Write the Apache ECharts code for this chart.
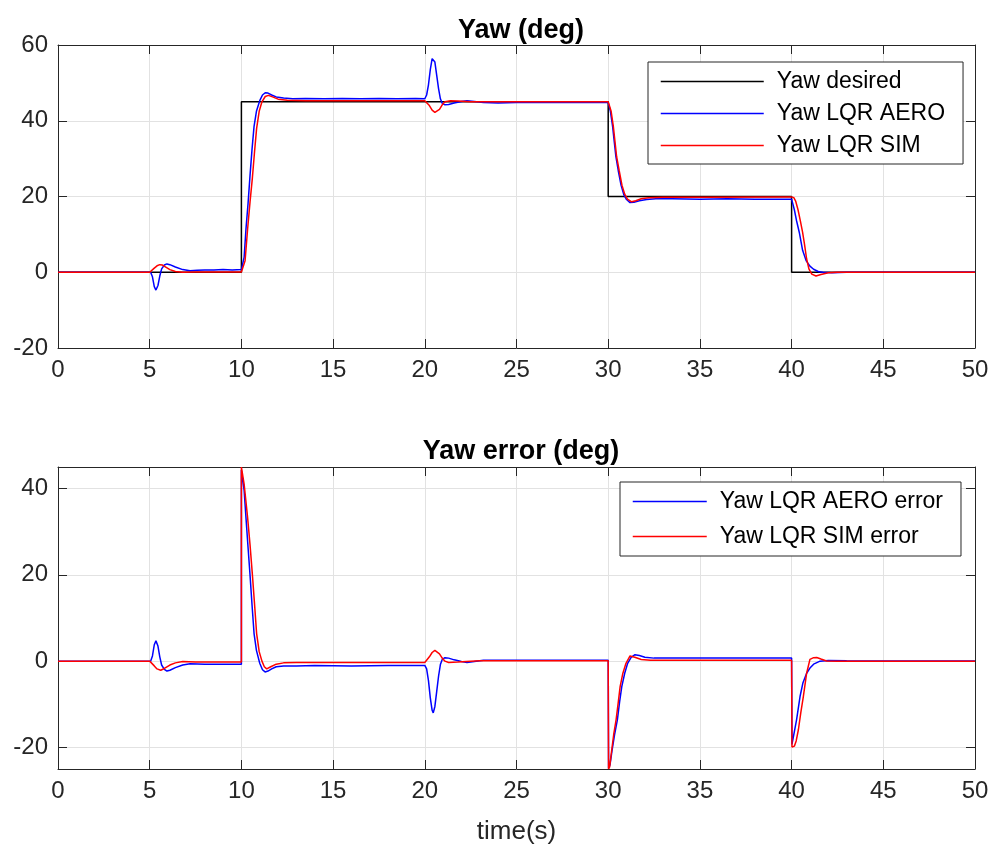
<!DOCTYPE html>
<html>
<head>
<meta charset="utf-8">
<title>Yaw LQR</title>
<script src="https://cdn.jsdelivr.net/npm/echarts@6/dist/echarts.min.js"></script>
<style>
  html, body { margin: 0; padding: 0; background: #fff; }
  #chart { width: 993px; height: 850px; }
</style>
</head>
<body>
<div id="chart"></div>
<script>
// Time axis ticks (seconds)
var timeTicks = [0, 5, 10, 15, 20, 25, 30, 35, 40, 45, 50];
var yawTicks = [-20, 0, 20, 40, 60];
var errorTicks = [-20, 0, 20, 40];

// Yaw reference [t, deg]
var yawDesired = [[0, 0], [10, 0], [10, 45], [30, 45], [30, 20], [40, 20], [40, 0], [50, 0]];

// Yaw measured on the aero rig [t, deg]
var yawAero = [
  [0, 0], [5.05, 0], [5.15, -1.2], [5.25, -3.8], [5.34, -4.7], [5.45, -3.5], [5.55, -1], [5.65, 0.9],
  [5.8, 1.9], [5.94, 2.2], [6.1, 2.0], [6.4, 1.4], [6.8, 0.7], [7.2, 0.4], [7.6, 0.5], [8, 0.6],
  [8.5, 0.6], [9, 0.7], [9.5, 0.6], [10, 0.7],
  [10.05, 1.0], [10.15, 4], [10.25, 11.5], [10.36, 18], [10.47, 25.5], [10.58, 32.5], [10.69, 38.5],
  [10.82, 42.5], [11.0, 45.3], [11.15, 46.8], [11.3, 47.4], [11.45, 47.3], [11.65, 46.8], [11.9, 46.3],
  [12.3, 46.0], [12.8, 45.8], [13.5, 45.9], [14.5, 45.8], [15.5, 45.9], [16.5, 45.8], [17.5, 45.9],
  [18.5, 45.8], [19.5, 45.9], [20.0, 45.8],
  [20.1, 46.8], [20.2, 49.5], [20.3, 53.5], [20.4, 56.4], [20.46, 56.9], [20.55, 55.5], [20.65, 52],
  [20.75, 48.5], [20.85, 45.8], [20.95, 44.6], [21.1, 44.2], [21.3, 44.3], [21.6, 44.7], [22.0, 45.1],
  [22.3, 45.3], [22.7, 45.1], [23.2, 44.8], [24, 44.7], [25, 44.8], [26, 44.8], [27, 44.8], [28, 44.8],
  [29, 44.8], [30, 44.8],
  [30.05, 44.3], [30.12, 42.5], [30.24, 38.5], [30.33, 34.5], [30.42, 30.5], [30.55, 26.8], [30.7, 23],
  [30.85, 20.5], [31.0, 19.2], [31.19, 18.4], [31.4, 18.5], [31.7, 18.9], [32.1, 19.2], [32.6, 19.4],
  [33.5, 19.4], [35, 19.3], [36.5, 19.4], [38, 19.3], [40, 19.3],
  [40.05, 18.8], [40.15, 16.5], [40.27, 13.6], [40.42, 10.5], [40.6, 5.8], [40.8, 3.0], [41.0, 1.6],
  [41.2, 0.8], [41.45, 0.2], [41.7, 0], [42.2, -0.1], [43, 0], [50, 0]
];

// Yaw from the simulation model [t, deg]
var yawSim = [
  [0, 0], [5.0, 0], [5.1, 0.3], [5.25, 1.1], [5.4, 1.7], [5.55, 2.0], [5.7, 1.9], [5.9, 1.3], [6.1, 0.7],
  [6.4, 0.2], [6.8, 0], [7.5, 0.05], [9, 0.05], [10, 0.05],
  [10.08, 0.3], [10.2, 3], [10.34, 11.5], [10.47, 18.5], [10.6, 25], [10.72, 32], [10.83, 38],
  [10.97, 42.5], [11.12, 45], [11.3, 46.4], [11.47, 46.7], [11.7, 46.3], [12, 45.7], [12.5, 45.4],
  [13.5, 45.3], [20, 45.3],
  [20.1, 45.1], [20.25, 44], [20.4, 42.8], [20.55, 42.2], [20.65, 42.2], [20.8, 43], [20.95, 44.2],
  [21.1, 45.0], [21.4, 45.3], [21.8, 45.2], [22.5, 45.0], [30, 45.0],
  [30.07, 44.7], [30.16, 42.5], [30.28, 38.5], [30.37, 34.5], [30.46, 30.5], [30.6, 26.8], [30.75, 23],
  [30.9, 20.6], [31.05, 19.3], [31.28, 18.6], [31.5, 18.9], [31.8, 19.4], [32.2, 19.7], [33, 19.8],
  [35, 19.8], [40, 19.9],
  [40.12, 19.7], [40.22, 18.8], [40.35, 16.5], [40.48, 13.5], [40.6, 10.5], [40.7, 7.5], [40.82, 3.5],
  [40.95, 0.8], [41.1, -0.5], [41.33, -1.0], [41.6, -0.6], [42, -0.15], [42.5, 0], [50, 0]
];

// Tracking error of the aero rig [t, deg]
var errorAero = [
  [0, 0], [5.05, 0], [5.15, 1.2], [5.25, 3.8], [5.34, 4.7], [5.45, 3.5], [5.55, 1], [5.65, -0.9],
  [5.8, -1.9], [5.94, -2.3], [6.1, -2.1], [6.4, -1.5], [6.8, -0.9], [7.2, -0.6], [8, -0.7], [9, -0.7],
  [10, -0.7],
  [10.0, 44.3], [10.05, 44], [10.15, 39.5], [10.25, 33.2], [10.36, 26.5], [10.47, 20], [10.58, 13],
  [10.69, 6.4], [10.82, 2.5], [11.0, -0.5], [11.15, -2], [11.29, -2.5], [11.45, -2.3], [11.65, -1.8],
  [11.9, -1.3], [12.3, -1.1], [13, -1.1], [14, -1.0], [16, -1.1], [18, -1.0], [20, -1.0],
  [20.1, -1.8], [20.2, -4.5], [20.3, -8.5], [20.4, -11.4], [20.46, -12], [20.55, -10.5], [20.65, -7],
  [20.75, -3.5], [20.85, -0.8], [20.95, 0.4], [21.1, 0.8], [21.3, 0.7], [21.6, 0.3], [22, -0.1],
  [22.3, -0.3], [22.7, -0.1], [23.2, 0.2], [30, 0.2],
  [30.02, -24.8], [30.1, -24], [30.2, -21], [30.35, -17], [30.5, -13.6], [30.62, -9.5], [30.74, -5.9],
  [30.9, -2.8], [31.06, -0.5], [31.25, 0.9], [31.46, 1.5], [31.7, 1.3], [32, 0.9], [32.5, 0.7],
  [34, 0.7], [37, 0.7], [40, 0.75],
  [40.02, -19.3], [40.1, -17.5], [40.27, -13.6], [40.46, -8.2], [40.62, -5], [40.82, -2.8], [41.0, -1.6],
  [41.2, -0.7], [41.55, 0], [42, 0.15], [43, 0.1], [50, 0.05]
];

// Tracking error of the simulation model [t, deg]
var errorSim = [
  [0, 0], [5.0, 0], [5.1, -0.3], [5.25, -1.1], [5.4, -1.8], [5.6, -2.1], [5.8, -1.7], [6.1, -0.9],
  [6.4, -0.4], [6.8, -0.1], [7.5, -0.2], [10, -0.2],
  [10.0, 45], [10.05, 44.8], [10.15, 41], [10.34, 33.2], [10.47, 27], [10.6, 20], [10.72, 13],
  [10.83, 6.4], [10.97, 2.2], [11.12, 0], [11.25, -1.3], [11.38, -1.8], [11.6, -1.3], [11.9, -0.7],
  [12.3, -0.4], [13, -0.3], [20, -0.3],
  [20.1, -0.1], [20.25, 1.0], [20.4, 2.0], [20.55, 2.5], [20.65, 2.4], [20.8, 1.7], [20.95, 0.7],
  [21.1, 0.0], [21.3, -0.3], [21.8, -0.2], [22.5, 0], [23, 0.1], [30, 0.1],
  [30.02, -25], [30.08, -24.5], [30.15, -22], [30.3, -17], [30.43, -13.6], [30.55, -9.5], [30.65, -5.9],
  [30.8, -2.8], [30.97, -0.5], [31.19, 1.2], [31.45, 0.9], [31.8, 0.4], [32.3, 0.2], [40, 0.2],
  [40.02, -19.9], [40.15, -19.7], [40.25, -18.5], [40.37, -15.9], [40.5, -12], [40.64, -8.2],
  [40.82, -2.8], [41.0, 0.4], [41.2, 0.8], [41.37, 0.85], [41.6, 0.5], [41.9, 0.05], [42.5, 0], [50, 0]
];

var FONT = '"Liberation Sans", Arial, Helvetica, sans-serif';
var AXIS_COLOR = '#262626';
var GRID_COLOR = '#e2e2e2';

function timeAxis(gridIndex, position) {
  var main = position === 'bottom';
  return {
    type: 'value', gridIndex: gridIndex, position: position,
    min: timeTicks[0], max: timeTicks[timeTicks.length - 1], interval: timeTicks[1] - timeTicks[0],
    axisLine: { show: true, onZero: false, lineStyle: { color: AXIS_COLOR, width: 1 } },
    axisTick: { show: true, inside: true, length: 9, lineStyle: { color: AXIS_COLOR } },
    axisLabel: { show: main, fontSize: 24, color: AXIS_COLOR, fontFamily: FONT, margin: 10 },
    splitLine: { show: main, lineStyle: { color: GRID_COLOR, width: 1 } }
  };
}

function valueAxis(gridIndex, position, ticks, min, max) {
  var main = position === 'left';
  return {
    type: 'value', gridIndex: gridIndex, position: position, min: min, max: max,
    axisLine: { show: true, onZero: false, lineStyle: { color: AXIS_COLOR, width: 1 } },
    axisTick: { show: true, inside: true, length: 9, lineStyle: { color: AXIS_COLOR }, customValues: ticks },
    axisLabel: { show: main, fontSize: 24, color: AXIS_COLOR, fontFamily: FONT, margin: 10, customValues: ticks },
    splitLine: { show: main, lineStyle: { color: GRID_COLOR, width: 1 } }
  };
}

function lineSeries(name, data, color, axisIndex) {
  return {
    name: name, type: 'line', data: data, xAxisIndex: axisIndex, yAxisIndex: axisIndex,
    symbol: 'none', showSymbol: false, smooth: false, clip: true,
    lineStyle: { color: color, width: 1.5 }, itemStyle: { color: color },
    emphasis: { disabled: true }
  };
}

// Legend keys are plain line samples, no marker dot
var legendBase = {
  orient: 'vertical', backgroundColor: '#fff', borderColor: AXIS_COLOR, borderWidth: 1,
  itemHeight: 14, selectedMode: false,
  itemStyle: { opacity: 0 },
  lineStyle: { width: 1.5 },
  textStyle: { fontSize: 23, color: '#000', fontFamily: FONT, padding: [0, 0, 0, 8] }
};

var chart = echarts.init(document.getElementById('chart'), null, { renderer: 'canvas' });
chart.setOption({
  animation: false,
  backgroundColor: '#fff',
  title: [
    { text: 'Yaw (deg)', left: 516, top: 12, textAlign: 'center',
      textStyle: { fontSize: 27, fontWeight: 'bold', color: '#000', fontFamily: FONT } },
    { text: 'Yaw error (deg)', left: 516, top: 433, textAlign: 'center',
      textStyle: { fontSize: 27, fontWeight: 'bold', color: '#000', fontFamily: FONT } }
  ],
  grid: [
    { left: 58, right: 18, top: 45, height: 303 },
    { left: 58, right: 18, top: 467, height: 302 }
  ],
  xAxis: [
    timeAxis(0, 'bottom'),
    Object.assign(timeAxis(1, 'bottom'), { name: 'time(s)', nameLocation: 'middle', nameGap: 50,
      nameTextStyle: { fontSize: 26, color: AXIS_COLOR, fontFamily: FONT } }),
    timeAxis(0, 'top'),
    timeAxis(1, 'top')
  ],
  yAxis: [
    valueAxis(0, 'left', yawTicks, -20, 60),
    valueAxis(1, 'left', errorTicks, -25, 45),
    valueAxis(0, 'right', yawTicks, -20, 60),
    valueAxis(1, 'right', errorTicks, -25, 45)
  ],
  legend: [
    Object.assign({}, legendBase, {
      left: 648, top: 62, itemWidth: 103, itemGap: 9, padding: [8, 18, 7, 12],
      data: ['Yaw desired', 'Yaw LQR AERO', 'Yaw LQR SIM']
    }),
    Object.assign({}, legendBase, {
      left: 620, top: 482, itemWidth: 74, itemGap: 12, padding: [8, 18, 8, 12],
      data: ['Yaw LQR AERO error', 'Yaw LQR SIM error']
    })
  ],
  series: [
    lineSeries('Yaw desired', yawDesired, '#000000', 0),
    lineSeries('Yaw LQR AERO', yawAero, '#0000ff', 0),
    lineSeries('Yaw LQR SIM', yawSim, '#ff0000', 0),
    lineSeries('Yaw LQR AERO error', errorAero, '#0000ff', 1),
    lineSeries('Yaw LQR SIM error', errorSim, '#ff0000', 1)
  ]
});
</script>
</body>
</html>
